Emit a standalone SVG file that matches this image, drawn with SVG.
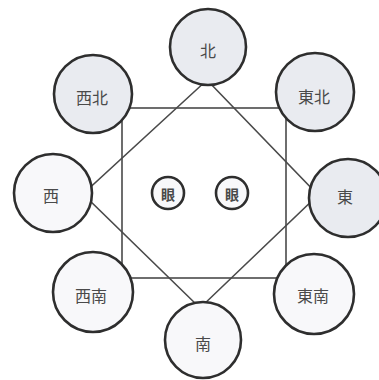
<svg xmlns="http://www.w3.org/2000/svg" width="379" height="380" viewBox="0 0 379 380">
<style>
.ln{stroke:#4a4a4a;stroke-width:1.6;fill:none}
.c{stroke:#2e2e2e;stroke-width:2.6}
.sh{fill:#e9ebf0}
.wh{fill:#f8f8fa}
.t{font-family:"Noto Sans CJK JP","Noto Sans CJK SC",sans-serif;font-size:16px;fill:#4a4a4a;text-anchor:middle;dominant-baseline:central}
.ts{font-size:14px;font-weight:bold}
</style>
<rect width="379" height="380" fill="#ffffff"/>
<g id="connectors">
<rect class="ln" x="122" y="108" width="164" height="170"/>
<polygon class="ln" points="207,80 318,195 200,308 83,194"/>
</g>
<g id="n-north"><circle class="c sh" cx="208" cy="47" r="38"/><text class="t" x="208" y="50">北</text></g>
<g id="n-northwest"><circle class="c sh" cx="93" cy="94" r="39"/><text class="t" x="92" y="97">西北</text></g>
<g id="n-northeast"><circle class="c sh" cx="315" cy="92" r="39"/><text class="t" x="314" y="96">東北</text></g>
<g id="n-west"><circle class="c wh" cx="53" cy="193" r="39"/><text class="t" x="51" y="195">西</text></g>
<g id="n-east"><circle class="c sh" cx="348" cy="198" r="39"/><text class="t" x="345" y="196">東</text></g>
<g id="n-southwest"><circle class="c wh" cx="93" cy="292" r="40"/><text class="t" x="91" y="295">西南</text></g>
<g id="n-southeast"><circle class="c wh" cx="314" cy="294" r="40"/><text class="t" x="313" y="295">東南</text></g>
<g id="n-south"><circle class="c wh" cx="203" cy="340" r="38"/><text class="t" x="203" y="343">南</text></g>
<g id="n-eye-left"><circle class="c wh" cx="168" cy="193" r="16"/><text class="t ts" x="168" y="194">眼</text></g>
<g id="n-eye-right"><circle class="c wh" cx="232" cy="193" r="16"/><text class="t ts" x="232" y="194">眼</text></g>
</svg>
